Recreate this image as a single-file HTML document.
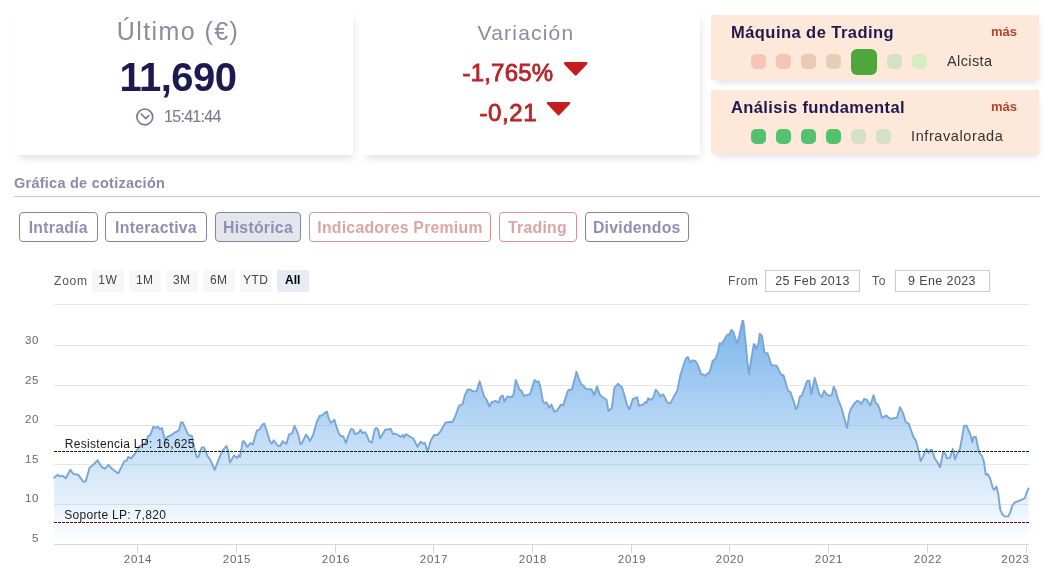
<!DOCTYPE html>
<html><head><meta charset="utf-8"><title>Cotización</title>
<style>
html,body{margin:0;padding:0;background:#fff;}
body{width:1054px;height:571px;overflow:hidden;position:relative;font-family:"Liberation Sans",sans-serif;}
.abs{position:absolute;white-space:nowrap;}
.card{position:absolute;background:#fff;box-shadow:3px 6px 8px -3px rgba(80,80,125,.17);}
.peach{position:absolute;background:#fde8d9;box-shadow:2px 5px 7px -3px rgba(80,80,125,.2);}
.sq{position:absolute;width:15px;height:15px;border-radius:5px;}
.tab{position:absolute;top:212px;height:28px;line-height:30px;border:1px solid #8582a0;border-radius:4px;color:#918eb3;font-weight:bold;font-size:15.8px;letter-spacing:.25px;text-align:center;box-sizing:content-box;}
.tab.p{border-color:#d39393;color:#dba5a5;}
.zb{position:absolute;top:270px;height:22px;line-height:21px;width:31.5px;background:#f7f7f7;border-radius:2px;font-size:12px;color:#444;text-align:center;letter-spacing:.5px;}
.inp{position:absolute;top:270px;height:20px;line-height:21px;border:1px solid #ccc;font-size:12.5px;color:#444;text-align:center;letter-spacing:.4px;background:#fff;}
.yl{position:absolute;left:0;width:39px;margin-top:-1px;text-align:right;font-size:11.5px;color:#666;letter-spacing:.6px;}
.xl{position:absolute;top:553px;width:60px;text-align:center;font-size:11.5px;color:#666;letter-spacing:.7px;}
</style></head><body>
<div id="w" style="position:absolute;left:0;top:0;width:1054px;height:571px;will-change:transform;">

<!-- Card 1 -->
<div class="card" style="left:13px;top:10px;width:339.5px;height:144.5px;"></div>
<div class="abs" style="left:78px;width:200px;text-align:center;top:17px;font-size:25px;letter-spacing:1.4px;color:#8d8b9e;">Último (€)</div>
<div class="abs" style="left:78px;width:200px;text-align:center;top:55px;font-size:40px;font-weight:bold;color:#1e1a4f;letter-spacing:-.5px;">11,690</div>
<svg class="abs" style="left:135px;top:107px;" width="20" height="20" viewBox="0 0 20 20"><circle cx="9.8" cy="9.9" r="7.9" fill="none" stroke="#7b798d" stroke-width="1.7"/><path d="M6.3 7.0 L10.6 11.5 L13.8 8.6" fill="none" stroke="#7b798d" stroke-width="1.7" stroke-linecap="round" stroke-linejoin="round"/></svg>
<div class="abs" style="left:164px;top:108px;font-size:16px;letter-spacing:-.7px;color:#7c7a8e;-webkit-text-stroke:.12px #7c7a8e;">15:41:44</div>

<!-- Card 2 -->
<div class="card" style="left:359.5px;top:10px;width:340px;height:144.5px;"></div>
<div class="abs" style="left:426px;width:200px;text-align:center;top:21px;font-size:21px;letter-spacing:1.2px;color:#8d8b9e;">Variación</div>
<div class="abs" style="left:462.5px;top:59px;font-size:24px;letter-spacing:.2px;color:#b3262a;-webkit-text-stroke:.8px #b3262a;">-1,765%</div>
<svg class="abs" style="left:0;top:0;" width="700" height="130" viewBox="0 0 700 130"><g fill="#c41c1f" stroke="#c41c1f" stroke-width="2.4" stroke-linejoin="round"><path d="M565.1 63.3 L586.2 63.3 L575.65 74.4 Z"/><path d="M548 103.1 L569.1 103.1 L558.55 114.3 Z"/></g></svg>
<div class="abs" style="left:479.5px;top:99px;font-size:24px;letter-spacing:.6px;color:#b3262a;-webkit-text-stroke:.8px #b3262a;">-0,21</div>


<!-- Right boxes -->
<div class="peach" style="left:711px;top:15px;width:328px;height:65px;"></div>
<div class="abs" style="left:731px;top:23px;font-size:16.5px;letter-spacing:.45px;font-weight:bold;color:#1e1a4f;">Máquina de Trading</div>
<div class="abs" style="left:991px;top:24px;font-size:13px;font-weight:bold;color:#b5432e;">más</div>
<div class="sq" style="left:751px;top:54px;background:#f6c5b5;"></div>
<div class="sq" style="left:776px;top:54px;background:#f4c4b5;"></div>
<div class="sq" style="left:801px;top:54px;background:#ebc9b5;"></div>
<div class="sq" style="left:826px;top:54px;background:#e7ceb6;"></div>
<div class="sq" style="left:851px;top:49px;width:26px;height:26px;border-radius:6px;background:#4ea63c;"></div>
<div class="sq" style="left:887px;top:54px;background:#d3e3c1;"></div>
<div class="sq" style="left:912px;top:54px;background:#d7ecc5;"></div>
<div class="abs" style="left:947px;top:53px;font-size:14.5px;letter-spacing:.4px;color:#333;">Alcista</div>

<div class="peach" style="left:711px;top:90px;width:328px;height:64px;"></div>
<div class="abs" style="left:731px;top:98px;font-size:16.5px;letter-spacing:.4px;font-weight:bold;color:#1e1a4f;">Análisis fundamental</div>
<div class="abs" style="left:991px;top:99px;font-size:13px;font-weight:bold;color:#b5432e;">más</div>
<div class="sq" style="left:751px;top:129px;background:#52c26c;"></div>
<div class="sq" style="left:776px;top:129px;background:#52c26c;"></div>
<div class="sq" style="left:801px;top:129px;background:#52c26c;"></div>
<div class="sq" style="left:826px;top:129px;background:#52c26c;"></div>
<div class="sq" style="left:851px;top:129px;background:#d6e0c5;"></div>
<div class="sq" style="left:876px;top:129px;background:#d3e1c5;"></div>
<div class="abs" style="left:911px;top:128px;font-size:14.5px;letter-spacing:.6px;color:#333;">Infravalorada</div>

<!-- Section title -->
<div class="abs" style="left:14px;top:175px;font-size:14.5px;letter-spacing:.25px;font-weight:bold;color:#8d8aac;">Gráfica de cotización</div>
<div class="abs" style="left:14px;top:196px;width:1026px;height:1px;background:#c8c8cc;"></div>

<!-- Tabs -->
<div class="tab" style="left:19px;width:76.5px;">Intradía</div>
<div class="tab" style="left:105px;width:100px;">Interactiva</div>
<div class="tab" style="left:215px;width:84px;background:#e5e5ec;">Histórica</div>
<div class="tab p" style="left:309px;width:180px;">Indicadores Premium</div>
<div class="tab p" style="left:498.5px;width:76px;">Trading</div>
<div class="tab" style="left:585px;width:101.5px;">Dividendos</div>

<!-- Zoom bar -->
<div class="abs" style="left:54px;top:273.5px;font-size:12px;color:#555;letter-spacing:.8px;">Zoom</div>
<div class="zb" style="left:92px;">1W</div>
<div class="zb" style="left:129px;">1M</div>
<div class="zb" style="left:166px;">3M</div>
<div class="zb" style="left:203px;">6M</div>
<div class="zb" style="left:240px;">YTD</div>
<div class="zb" style="left:277px;background:#e6ebf5;font-weight:bold;color:#000;letter-spacing:0;">All</div>
<div class="abs" style="left:728px;top:273.5px;font-size:12px;color:#555;letter-spacing:.6px;">From</div>
<div class="inp" style="left:765px;width:93px;">25 Feb 2013</div>
<div class="abs" style="left:872px;top:273.5px;font-size:12px;color:#555;letter-spacing:.8px;">To</div>
<div class="inp" style="left:894.5px;width:93px;">9 Ene 2023</div>

<!-- Chart -->
<svg class="abs" style="left:0;top:0;" width="1054" height="571" viewBox="0 0 1054 571">
<defs><linearGradient id="g" x1="0" y1="321" x2="0" y2="544" gradientUnits="userSpaceOnUse">
<stop offset="0" stop-color="#7cb5ec" stop-opacity="1"/><stop offset="1" stop-color="#7cb5ec" stop-opacity="0"/></linearGradient></defs>
<g stroke="#e6e6e8" stroke-width="1" shape-rendering="crispEdges">
<line x1="54" x2="1029" y1="304.5" y2="304.5"/>
<line x1="54" x2="1029" y1="345.5" y2="345.5"/>
<line x1="54" x2="1029" y1="385.5" y2="385.5"/>
<line x1="54" x2="1029" y1="425.5" y2="425.5"/>
<line x1="54" x2="1029" y1="464.5" y2="464.5"/>
<line x1="54" x2="1029" y1="504.5" y2="504.5"/>
</g>
<path d="M54.2,477.8 L57.6,474.6 L59.5,476.3 L62.9,475.9 L65.6,478.2 L70.5,469.8 L72.8,473.6 L78.5,475.0 L83.2,481.6 L85.7,481.6 L89.5,467.7 L93.6,464.5 L97.4,460.3 L101.6,466.8 L105.0,468.7 L108.4,464.9 L112.6,469.3 L118.3,473.4 L124.4,461.1 L126.9,460.3 L128.2,456.9 L131.2,458.4 L135.4,453.1 L139.2,446.5 L144.9,443.6 L148.3,436.0 L150.2,435.1 L153.4,426.6 L156.3,428.0 L157.8,426.6 L160.0,429.4 L162.0,428.0 L164.8,439.8 L167.3,437.0 L171.4,435.1 L175.2,432.3 L179.0,430.4 L180.9,422.4 L182.8,422.4 L185.7,429.4 L188.5,435.1 L191.9,436.0 L194.2,447.4 L196.5,456.9 L198.4,456.9 L201.8,447.4 L204.0,447.4 L207.5,456.0 L210.3,459.8 L214.7,469.8 L218.9,458.8 L222.7,450.3 L226.5,445.9 L228.0,450.3 L229.9,462.6 L234.0,455.4 L236.9,457.9 L238.8,455.0 L240.0,456.9 L242.8,441.1 L244.2,441.7 L247.2,446.8 L250.4,443.0 L252.9,444.5 L256.7,430.9 L259.9,429.0 L262.4,424.6 L264.3,423.6 L266.6,430.3 L270.0,441.7 L271.9,443.6 L273.8,440.3 L277.6,445.5 L280.2,446.0 L282.7,441.1 L284.6,443.0 L286.5,443.6 L289.0,434.6 L292.2,433.1 L294.5,425.9 L296.9,430.9 L298.4,435.0 L300.3,444.1 L301.7,443.6 L306.0,434.6 L307.9,436.9 L309.8,441.1 L313.1,435.0 L316.9,421.4 L319.7,416.0 L322.5,415.1 L325.0,412.6 L326.9,411.7 L328.8,418.9 L330.7,422.7 L332.6,421.7 L334.3,419.5 L336.4,426.5 L338.7,433.1 L340.6,436.0 L343.4,436.5 L345.9,443.0 L348.5,435.0 L351.0,429.0 L353.3,429.7 L354.8,434.1 L358.6,432.8 L360.5,429.7 L362.4,433.1 L364.9,432.2 L366.8,435.0 L369.0,441.1 L371.9,442.6 L374.7,429.7 L376.2,427.8 L378.1,429.7 L380.0,438.4 L382.7,434.1 L385.2,429.7 L390.9,429.0 L392.8,434.1 L395.2,433.5 L398.4,435.4 L401.3,436.9 L402.8,435.0 L404.1,437.3 L406.0,434.1 L409.8,436.5 L413.6,438.8 L417.4,446.8 L420.6,441.7 L423.1,443.6 L425.0,443.0 L427.5,452.1 L430.7,440.7 L433.9,435.0 L437.3,435.0 L440.0,432.2 L441.4,429.7 L445.6,422.5 L452.8,421.7 L455.6,415.5 L458.8,406.0 L462.6,404.1 L465.1,394.6 L467.6,389.5 L470.8,389.8 L473.3,391.4 L476.5,391.4 L479.7,381.3 L481.6,387.9 L484.1,396.5 L486.9,400.3 L489.2,406.5 L491.7,402.2 L495.5,400.9 L498.7,402.7 L500.6,396.5 L502.7,395.5 L504.4,401.6 L507.4,396.5 L511.6,397.1 L513.5,394.6 L515.8,380.0 L518.2,386.0 L519.6,389.8 L521.1,390.2 L523.9,395.9 L526.8,395.2 L530.2,394.0 L534.4,380.0 L536.6,381.9 L538.5,381.3 L540.0,385.1 L542.9,401.2 L544.8,403.5 L546.5,402.2 L549.2,407.9 L551.4,404.6 L554.3,411.7 L556.8,410.7 L560.9,404.6 L563.2,405.4 L567.6,391.4 L568.9,389.8 L571.9,389.5 L576.5,371.8 L578.4,377.5 L580.9,383.8 L583.3,385.7 L586.0,388.9 L591.7,389.5 L594.1,395.2 L597.0,386.4 L599.8,394.6 L601.7,396.5 L606.5,399.7 L608.4,411.1 L611.8,407.9 L614.4,387.6 L617.9,383.8 L620.0,385.5 L621.9,386.9 L624.7,396.3 L627.2,405.8 L629.5,409.1 L632.9,398.8 L637.1,397.3 L639.0,405.8 L643.1,404.5 L645.0,402.0 L646.6,403.0 L648.1,398.2 L650.4,400.1 L653.2,397.7 L655.7,389.7 L657.6,391.6 L660.2,396.3 L663.3,394.4 L667.4,402.6 L670.3,403.4 L674.1,396.3 L677.3,390.6 L680.3,375.5 L683.6,365.0 L686.0,358.4 L687.9,357.1 L690.2,362.2 L693.1,360.3 L695.5,360.9 L697.8,365.0 L701.2,374.1 L703.5,374.5 L704.6,376.0 L706.9,374.1 L709.6,372.2 L712.6,360.9 L715.4,359.0 L717.7,352.7 L719.6,343.2 L721.5,344.2 L724.4,339.4 L727.2,334.7 L729.1,335.0 L731.4,329.9 L733.3,331.8 L735.4,338.5 L737.3,343.8 L739.5,334.7 L742.4,321.0 L743.3,321.0 L745.6,342.3 L747.5,363.1 L749.0,374.1 L751.3,359.0 L753.8,344.2 L754.7,344.5 L756.2,349.5 L758.5,343.2 L759.8,333.7 L761.9,335.6 L764.6,353.3 L767.6,353.3 L771.4,365.4 L776.5,365.4 L780.9,374.5 L783.6,375.5 L787.9,390.6 L790.4,392.0 L793.6,401.1 L796.1,409.1 L797.4,407.7 L799.9,396.3 L801.8,395.8 L806.9,381.2 L809.4,380.6 L811.3,394.4 L814.7,378.0 L817.2,386.6 L819.1,393.8 L821.8,397.0 L824.2,390.7 L826.7,394.5 L829.0,395.7 L831.8,395.1 L833.7,386.6 L835.6,390.4 L838.1,399.8 L841.3,407.4 L844.2,417.9 L847.0,427.9 L849.5,412.8 L850.8,409.0 L854.0,404.0 L857.1,400.8 L859.0,401.4 L861.2,404.0 L864.1,398.9 L866.9,399.8 L870.3,405.5 L873.6,395.1 L875.5,402.7 L877.9,404.6 L879.8,409.7 L882.1,417.9 L884.0,416.9 L886.3,415.4 L888.7,417.9 L891.6,418.8 L894.4,417.9 L896.9,417.9 L900.1,407.1 L903.0,413.1 L905.8,422.2 L908.7,423.6 L913.4,436.9 L915.9,440.6 L918.2,449.0 L920.6,461.0 L923.1,456.6 L926.4,448.9 L928.8,452.7 L930.3,450.0 L932.2,450.0 L934.6,458.3 L937.4,462.2 L940.1,467.2 L943.2,451.7 L945.1,453.1 L947.1,458.4 L949.9,457.9 L952.8,448.9 L955.0,459.5 L957.0,454.1 L959.8,449.6 L961.8,439.0 L964.0,425.9 L966.5,425.6 L970.4,434.5 L972.3,442.3 L973.6,437.0 L975.9,437.0 L978.7,451.0 L980.8,454.6 L981.9,455.7 L983.9,461.5 L985.8,474.9 L987.7,474.0 L990.2,478.8 L992.9,488.4 L994.4,489.8 L996.4,486.5 L998.3,494.2 L1000.2,509.6 L1002.2,514.1 L1004.5,516.4 L1008.3,516.4 L1010.3,512.5 L1012.2,505.8 L1014.7,502.5 L1018.5,501.0 L1022.4,499.4 L1024.9,498.1 L1026.8,492.3 L1028.6,488.4 L1028.6,544 L54.2,544 Z" fill="url(#g)" stroke="none"/>
<path d="M54.2,477.8 L57.6,474.6 L59.5,476.3 L62.9,475.9 L65.6,478.2 L70.5,469.8 L72.8,473.6 L78.5,475.0 L83.2,481.6 L85.7,481.6 L89.5,467.7 L93.6,464.5 L97.4,460.3 L101.6,466.8 L105.0,468.7 L108.4,464.9 L112.6,469.3 L118.3,473.4 L124.4,461.1 L126.9,460.3 L128.2,456.9 L131.2,458.4 L135.4,453.1 L139.2,446.5 L144.9,443.6 L148.3,436.0 L150.2,435.1 L153.4,426.6 L156.3,428.0 L157.8,426.6 L160.0,429.4 L162.0,428.0 L164.8,439.8 L167.3,437.0 L171.4,435.1 L175.2,432.3 L179.0,430.4 L180.9,422.4 L182.8,422.4 L185.7,429.4 L188.5,435.1 L191.9,436.0 L194.2,447.4 L196.5,456.9 L198.4,456.9 L201.8,447.4 L204.0,447.4 L207.5,456.0 L210.3,459.8 L214.7,469.8 L218.9,458.8 L222.7,450.3 L226.5,445.9 L228.0,450.3 L229.9,462.6 L234.0,455.4 L236.9,457.9 L238.8,455.0 L240.0,456.9 L242.8,441.1 L244.2,441.7 L247.2,446.8 L250.4,443.0 L252.9,444.5 L256.7,430.9 L259.9,429.0 L262.4,424.6 L264.3,423.6 L266.6,430.3 L270.0,441.7 L271.9,443.6 L273.8,440.3 L277.6,445.5 L280.2,446.0 L282.7,441.1 L284.6,443.0 L286.5,443.6 L289.0,434.6 L292.2,433.1 L294.5,425.9 L296.9,430.9 L298.4,435.0 L300.3,444.1 L301.7,443.6 L306.0,434.6 L307.9,436.9 L309.8,441.1 L313.1,435.0 L316.9,421.4 L319.7,416.0 L322.5,415.1 L325.0,412.6 L326.9,411.7 L328.8,418.9 L330.7,422.7 L332.6,421.7 L334.3,419.5 L336.4,426.5 L338.7,433.1 L340.6,436.0 L343.4,436.5 L345.9,443.0 L348.5,435.0 L351.0,429.0 L353.3,429.7 L354.8,434.1 L358.6,432.8 L360.5,429.7 L362.4,433.1 L364.9,432.2 L366.8,435.0 L369.0,441.1 L371.9,442.6 L374.7,429.7 L376.2,427.8 L378.1,429.7 L380.0,438.4 L382.7,434.1 L385.2,429.7 L390.9,429.0 L392.8,434.1 L395.2,433.5 L398.4,435.4 L401.3,436.9 L402.8,435.0 L404.1,437.3 L406.0,434.1 L409.8,436.5 L413.6,438.8 L417.4,446.8 L420.6,441.7 L423.1,443.6 L425.0,443.0 L427.5,452.1 L430.7,440.7 L433.9,435.0 L437.3,435.0 L440.0,432.2 L441.4,429.7 L445.6,422.5 L452.8,421.7 L455.6,415.5 L458.8,406.0 L462.6,404.1 L465.1,394.6 L467.6,389.5 L470.8,389.8 L473.3,391.4 L476.5,391.4 L479.7,381.3 L481.6,387.9 L484.1,396.5 L486.9,400.3 L489.2,406.5 L491.7,402.2 L495.5,400.9 L498.7,402.7 L500.6,396.5 L502.7,395.5 L504.4,401.6 L507.4,396.5 L511.6,397.1 L513.5,394.6 L515.8,380.0 L518.2,386.0 L519.6,389.8 L521.1,390.2 L523.9,395.9 L526.8,395.2 L530.2,394.0 L534.4,380.0 L536.6,381.9 L538.5,381.3 L540.0,385.1 L542.9,401.2 L544.8,403.5 L546.5,402.2 L549.2,407.9 L551.4,404.6 L554.3,411.7 L556.8,410.7 L560.9,404.6 L563.2,405.4 L567.6,391.4 L568.9,389.8 L571.9,389.5 L576.5,371.8 L578.4,377.5 L580.9,383.8 L583.3,385.7 L586.0,388.9 L591.7,389.5 L594.1,395.2 L597.0,386.4 L599.8,394.6 L601.7,396.5 L606.5,399.7 L608.4,411.1 L611.8,407.9 L614.4,387.6 L617.9,383.8 L620.0,385.5 L621.9,386.9 L624.7,396.3 L627.2,405.8 L629.5,409.1 L632.9,398.8 L637.1,397.3 L639.0,405.8 L643.1,404.5 L645.0,402.0 L646.6,403.0 L648.1,398.2 L650.4,400.1 L653.2,397.7 L655.7,389.7 L657.6,391.6 L660.2,396.3 L663.3,394.4 L667.4,402.6 L670.3,403.4 L674.1,396.3 L677.3,390.6 L680.3,375.5 L683.6,365.0 L686.0,358.4 L687.9,357.1 L690.2,362.2 L693.1,360.3 L695.5,360.9 L697.8,365.0 L701.2,374.1 L703.5,374.5 L704.6,376.0 L706.9,374.1 L709.6,372.2 L712.6,360.9 L715.4,359.0 L717.7,352.7 L719.6,343.2 L721.5,344.2 L724.4,339.4 L727.2,334.7 L729.1,335.0 L731.4,329.9 L733.3,331.8 L735.4,338.5 L737.3,343.8 L739.5,334.7 L742.4,321.0 L743.3,321.0 L745.6,342.3 L747.5,363.1 L749.0,374.1 L751.3,359.0 L753.8,344.2 L754.7,344.5 L756.2,349.5 L758.5,343.2 L759.8,333.7 L761.9,335.6 L764.6,353.3 L767.6,353.3 L771.4,365.4 L776.5,365.4 L780.9,374.5 L783.6,375.5 L787.9,390.6 L790.4,392.0 L793.6,401.1 L796.1,409.1 L797.4,407.7 L799.9,396.3 L801.8,395.8 L806.9,381.2 L809.4,380.6 L811.3,394.4 L814.7,378.0 L817.2,386.6 L819.1,393.8 L821.8,397.0 L824.2,390.7 L826.7,394.5 L829.0,395.7 L831.8,395.1 L833.7,386.6 L835.6,390.4 L838.1,399.8 L841.3,407.4 L844.2,417.9 L847.0,427.9 L849.5,412.8 L850.8,409.0 L854.0,404.0 L857.1,400.8 L859.0,401.4 L861.2,404.0 L864.1,398.9 L866.9,399.8 L870.3,405.5 L873.6,395.1 L875.5,402.7 L877.9,404.6 L879.8,409.7 L882.1,417.9 L884.0,416.9 L886.3,415.4 L888.7,417.9 L891.6,418.8 L894.4,417.9 L896.9,417.9 L900.1,407.1 L903.0,413.1 L905.8,422.2 L908.7,423.6 L913.4,436.9 L915.9,440.6 L918.2,449.0 L920.6,461.0 L923.1,456.6 L926.4,448.9 L928.8,452.7 L930.3,450.0 L932.2,450.0 L934.6,458.3 L937.4,462.2 L940.1,467.2 L943.2,451.7 L945.1,453.1 L947.1,458.4 L949.9,457.9 L952.8,448.9 L955.0,459.5 L957.0,454.1 L959.8,449.6 L961.8,439.0 L964.0,425.9 L966.5,425.6 L970.4,434.5 L972.3,442.3 L973.6,437.0 L975.9,437.0 L978.7,451.0 L980.8,454.6 L981.9,455.7 L983.9,461.5 L985.8,474.9 L987.7,474.0 L990.2,478.8 L992.9,488.4 L994.4,489.8 L996.4,486.5 L998.3,494.2 L1000.2,509.6 L1002.2,514.1 L1004.5,516.4 L1008.3,516.4 L1010.3,512.5 L1012.2,505.8 L1014.7,502.5 L1018.5,501.0 L1022.4,499.4 L1024.9,498.1 L1026.8,492.3 L1028.6,488.4" fill="none" stroke="#79a6d4" stroke-width="1.9" stroke-linejoin="round" stroke-linecap="round"/>
<line x1="54" x2="1029" y1="451.5" y2="451.5" stroke="#0c2612" stroke-width="1" stroke-dasharray="3,1" shape-rendering="crispEdges"/>
<line x1="54" x2="1029" y1="522.5" y2="522.5" stroke="#520d0d" stroke-width="1" stroke-dasharray="3,1" shape-rendering="crispEdges"/>
<g stroke="#d4d6de" stroke-width="1" shape-rendering="crispEdges">
<line x1="54" x2="1029" y1="544.5" y2="544.5"/>
<line x1="137.5" x2="137.5" y1="544" y2="553"/>
<line x1="236.5" x2="236.5" y1="544" y2="553"/>
<line x1="335.5" x2="335.5" y1="544" y2="553"/>
<line x1="433.5" x2="433.5" y1="544" y2="553"/>
<line x1="532.5" x2="532.5" y1="544" y2="553"/>
<line x1="631.5" x2="631.5" y1="544" y2="553"/>
<line x1="729.5" x2="729.5" y1="544" y2="553"/>
<line x1="828.5" x2="828.5" y1="544" y2="553"/>
<line x1="927.5" x2="927.5" y1="544" y2="553"/>
<line x1="1026.5" x2="1026.5" y1="544" y2="553"/>
</g>
</svg>
<div class="abs" style="left:64.8px;top:437px;font-size:12px;color:#1a1a1a;letter-spacing:.3px;">Resistencia LP: 16,625</div>
<div class="abs" style="left:64.3px;top:508px;font-size:12px;color:#1a1a1a;letter-spacing:.3px;">Soporte LP: 7,820</div>

<div class="yl" style="top:334.5px;">30</div>
<div class="yl" style="top:374.5px;">25</div>
<div class="yl" style="top:414px;">20</div>
<div class="yl" style="top:454px;">15</div>
<div class="yl" style="top:493px;">10</div>
<div class="yl" style="top:533px;">5</div>

<div class="xl" style="left:108px;">2014</div>
<div class="xl" style="left:207px;">2015</div>
<div class="xl" style="left:306px;">2016</div>
<div class="xl" style="left:404px;">2017</div>
<div class="xl" style="left:503px;">2018</div>
<div class="xl" style="left:602px;">2019</div>
<div class="xl" style="left:700px;">2020</div>
<div class="xl" style="left:799px;">2021</div>
<div class="xl" style="left:898px;">2022</div>
<div class="xl" style="left:985.5px;">2023</div>
</div>
</body></html>
